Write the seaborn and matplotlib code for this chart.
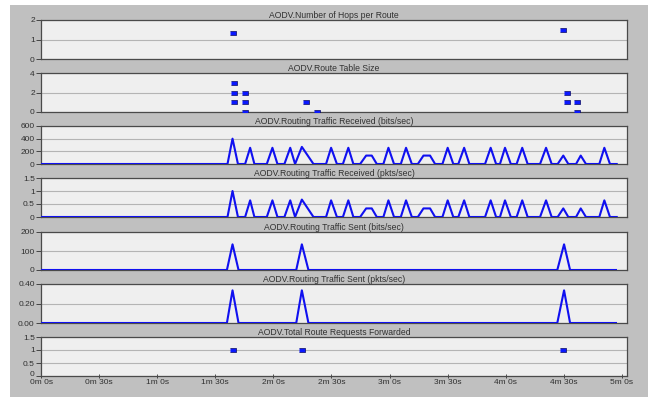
import matplotlib
matplotlib.use("Agg")
import matplotlib.pyplot as plt
from matplotlib.patches import Rectangle
from matplotlib.transforms import ScaledTranslation
import pandas as pd
import seaborn as sns

# ---- data (time in seconds) ----
hops_t = [98.9, 269.7]
hops_v = [1.33, 1.5]

rts_t = [99.9, 99.9, 99.9, 105.1, 105.1, 105.1, 136.9, 142.4, 271.5, 271.5, 276.6, 276.6]
rts_v = [3, 2, 1, 2, 1, 0, 1, 0, 2, 1, 1, 0]

recv_t = [0.0, 96.3, 98.9, 101.7, 105.4, 108.0, 110.2, 116.6, 119.5, 122.1,
          125.7, 128.7, 131.2, 134.7, 140.7, 147.2, 149.8, 152.8, 155.9, 158.7,
          161.3, 164.8, 167.9, 170.8, 173.4, 176.8, 179.4, 182.3, 185.8, 188.5,
          191.5, 194.6, 197.5, 200.9, 203.5, 207.3, 210.0, 212.9, 215.5, 218.5,
          221.2, 229.3, 232.2, 235.0, 237.0, 239.6, 242.6, 245.6, 248.5, 251.3,
          257.7, 260.8, 263.7, 266.8, 269.7, 272.3, 276.3, 278.7, 281.4, 288.3,
          290.9, 293.8, 297.3]
recv_bits = [0, 0, 400, 0, 0, 256, 0, 0, 256, 0,
             0, 256, 0, 270, 0, 0, 256, 0, 0, 256,
             0, 0, 133, 133, 0, 0, 256, 0, 0, 256,
             0, 0, 133, 133, 0, 0, 256, 0, 0, 256,
             0, 0, 256, 0, 0, 256, 0, 0, 256, 0,
             0, 256, 0, 0, 133, 0, 0, 133, 0, 0,
             256, 0, 0]
recv_pkts = [0, 0, 1.0, 0, 0, 0.64, 0, 0, 0.64, 0,
             0, 0.64, 0, 0.67, 0, 0, 0.64, 0, 0, 0.64,
             0, 0, 0.33, 0.33, 0, 0, 0.64, 0, 0, 0.64,
             0, 0, 0.33, 0.33, 0, 0, 0.64, 0, 0, 0.64,
             0, 0, 0.64, 0, 0, 0.64, 0, 0, 0.64, 0,
             0, 0.64, 0, 0, 0.33, 0, 0, 0.33, 0, 0,
             0.64, 0, 0]

sent_t = [0.0, 96.0, 98.9, 102.0, 131.8, 134.7, 138.1, 266.6, 270.1, 273.2, 296.9]
sent_bits = [0, 0, 135, 0, 0, 135, 0, 0, 135, 0, 0]
sent_pkts = [0, 0, 0.335, 0, 0, 0.335, 0, 0, 0.335, 0, 0]

rreq_t = [98.9, 134.7, 269.7]
rreq_v = [1, 1, 1]

titles = ["AODV.Number of Hops per Route",
          "AODV.Route Table Size",
          "AODV.Routing Traffic Received (bits/sec)",
          "AODV.Routing Traffic Received (pkts/sec)",
          "AODV.Routing Traffic Sent (bits/sec)",
          "AODV.Routing Traffic Sent (pkts/sec)",
          "AODV.Total Route Requests Forwarded"]

yticks = [[0, 1, 2], [0, 2, 4], [0, 200, 400, 600], [0, 0.5, 1, 1.5],
          [0, 100, 200], [0, 0.2, 0.4], [0, 0.5, 1, 1.5]]
yticklabels = [["0", "1", "2"], ["0", "2", "4"], ["0", "200", "400", "600"],
               ["0", "0.5", "1", "1.5"], ["0", "100", "200"],
               ["0.00", "0.20", "0.40"], ["0", "0.5", "1", "1.5"]]

xticks = [0, 30, 60, 90, 120, 150, 180, 210, 240, 270, 300]
xticklabels = ["0m 0s", "0m 30s", "1m 0s", "1m 30s", "2m 0s", "2m 30s",
               "3m 0s", "3m 30s", "4m 0s", "4m 30s", "5m 0s"]

# ---- figure ----
W, H = 648, 397
plt.rcParams["font.family"] = ["Liberation Sans", "DejaVu Sans"]
fig = plt.figure(figsize=(W / 100, H / 100), dpi=100, facecolor="white")
fig.patches.append(Rectangle((10 / W, 0), 1 - 10 / W, 1 - 5 / H,
                             transform=fig.transFigure, facecolor="#c0c0c0",
                             edgecolor="none", zorder=-10))

panel_px = [(20, 59), (73, 112), (126, 164), (178, 217), (232, 270), (284, 323), (337, 376)]
left_px, right_px = 41, 627

axes = []
for top, bot in panel_px:
    ax = fig.add_axes([left_px / W, 1 - bot / H, (right_px - left_px) / W, (bot - top) / H])
    axes.append(ax)

line_color = "#1010f0"
marker_verts = [(-1, -0.6), (1, -0.6), (1, 0.6), (-1, 0.6)]

def scatter(ax, t, v):
    df = pd.DataFrame({"t": t, "v": v})
    sns.scatterplot(data=df, x="t", y="v", ax=ax, marker=marker_verts, s=16,
                    color="#0a18ff", edgecolor="#0a0a60", linewidth=0.5, zorder=3)

def line(ax, t, v):
    df = pd.DataFrame({"t": t, "v": v})
    sns.lineplot(data=df, x="t", y="v", ax=ax, color=line_color, linewidth=1.5,
                 zorder=3)

scatter(axes[0], hops_t, hops_v)
scatter(axes[1], rts_t, rts_v)
line(axes[2], recv_t, recv_bits)
line(axes[3], recv_t, recv_pkts)
line(axes[4], sent_t, sent_bits)
line(axes[5], sent_t, sent_pkts)
scatter(axes[6], rreq_t, rreq_v)

for i, ax in enumerate(axes):
    ax.set_facecolor("#efefef")
    ax.set_xlim(0, 302.6)
    ax.set_ylim(yticks[i][0], yticks[i][-1])
    ax.set_yticks(yticks[i])
    ax.set_yticklabels(yticklabels[i])
    ax.set_xlabel("")
    ax.set_ylabel("")
    ax.grid(axis="y", color="#b4b4b4", linewidth=0.8)
    ax.set_axisbelow(True)
    for sp in ax.spines.values():
        sp.set_color("#4a4a4a")
        sp.set_linewidth(0.9)
    ax.tick_params(axis="y", labelsize=6, length=3.5, width=0.6, pad=1,
                   colors="#303030")
    ax.set_title(titles[i], fontsize=6.2, color="#303030", pad=1.5, loc="center")
    if i < len(axes) - 1:
        ax.set_xticks([])
    else:
        ax.set_xticks(xticks)
        ax.set_xticklabels(xticklabels)
        ax.tick_params(axis="x", labelsize=6, length=3, width=0.6, pad=0.5,
                       colors="#303030", direction="inout")

# lift the bottom panel's "0" label a little so it clears the time labels
zero_label = axes[-1].get_yticklabels()[0]
zero_label.set_transform(zero_label.get_transform()
                         + ScaledTranslation(0, 2 / 100, fig.dpi_scale_trans))

fig.savefig("out.png", dpi=100, facecolor=fig.get_facecolor())
